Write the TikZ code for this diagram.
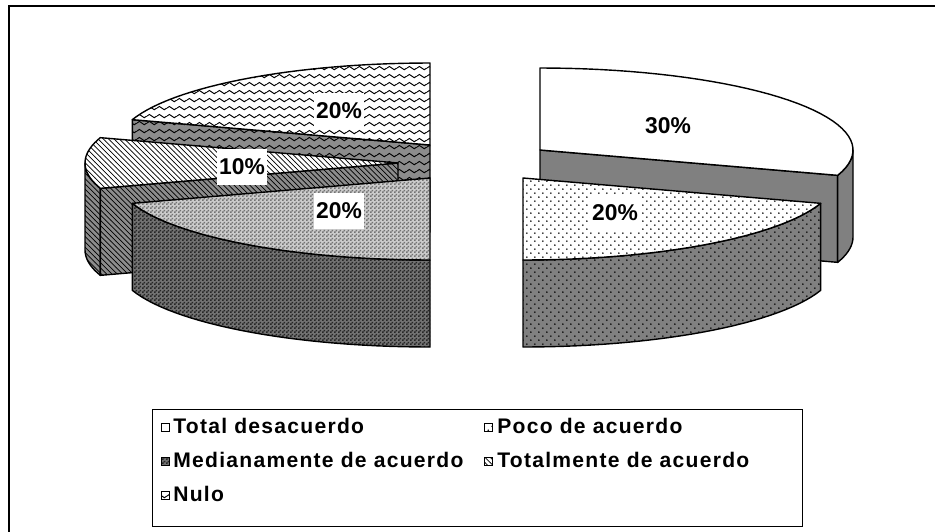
\documentclass[tikz,border=0pt]{standalone}
\usepackage{fontspec}
\setmainfont{Liberation Sans}
\newfontfamily\legfont[LetterSpace=6]{Liberation Sans}
\usetikzlibrary{patterns}

\pgfdeclarepatternformonly{waves}{\pgfpointorigin}{\pgfpoint{5.6pt}{4.5pt}}{\pgfpoint{5.6pt}{4.5pt}}{%
  \pgfsetlinewidth{0.55pt}
  \pgfpathmoveto{\pgfpoint{0pt}{2.25pt}}
  \pgfpathcurveto{\pgfpoint{0.9pt}{3.5pt}}{\pgfpoint{1.9pt}{3.5pt}}{\pgfpoint{2.8pt}{2.25pt}}
  \pgfpathcurveto{\pgfpoint{3.7pt}{1pt}}{\pgfpoint{4.7pt}{1pt}}{\pgfpoint{5.6pt}{2.25pt}}
  \pgfusepath{stroke}}
\pgfdeclarepatternformonly{finecheck}{\pgfpointorigin}{\pgfpoint{2pt}{2pt}}{\pgfpoint{2pt}{2pt}}{%
  \pgfpathrectangle{\pgfpointorigin}{\pgfpoint{1pt}{1pt}}
  \pgfpathrectangle{\pgfpoint{1pt}{1pt}}{\pgfpoint{1pt}{1pt}}
  \pgfusepath{fill}}
\pgfdeclarepatternformonly{sparsedots}{\pgfpointorigin}{\pgfpoint{4.5pt}{4.5pt}}{\pgfpoint{4.5pt}{4.5pt}}{%
  \pgfpathcircle{\pgfpoint{1.1pt}{1.1pt}}{0.5pt}
  \pgfpathcircle{\pgfpoint{3.35pt}{3.35pt}}{0.5pt}
  \pgfusepath{fill}}

\tikzset{
  piece/.style={draw, thick, line join=round},
  destop/.style={piece, fill=white},
  desside/.style={piece, fill=black!50},
  pocotop/.style={piece, preaction={fill=white}, pattern=sparsedots},
  pocoside/.style={piece, preaction={fill=black!50}, pattern=sparsedots},
  medtop/.style={piece, preaction={fill=black!20}, pattern=finecheck, pattern color=black!55},
  medside/.style={piece, preaction={fill=black!55}, pattern=finecheck, pattern color=black!85},
  tottop/.style={piece, preaction={fill=white}, pattern=north west lines},
  totside/.style={piece, preaction={fill=black!45}, pattern=north west lines},
  nulotop/.style={piece, preaction={fill=white}, pattern=waves},
  nuloside/.style={piece, preaction={fill=black!45}, pattern=waves},
  pct/.style={fill=white, font=\fontsize{13}{15}\selectfont\bfseries, minimum width=27pt, minimum height=21pt, inner sep=1pt},
  legtext/.style={anchor=base west, inner sep=0pt, font=\legfont\fontsize{12}{14}\selectfont\bfseries},
  legkey/.style={draw, thin, minimum size=4.6pt, inner sep=0pt},
}

\def\pieA{313}
\def\pieB{82}

\begin{document}
\begin{tikzpicture}[x=0.02cm, y=-0.02cm]
	\useasboundingbox (0,0) rectangle (935,531);
	\draw[line width=1pt] (9,6) rectangle (960,560);

	% left half
	\draw[nuloside] (430,145) -- ({430+\pieA*cos(162)},{145-\pieB*sin(162)}) -- ({430+\pieA*cos(162)},{232-\pieB*sin(162)}) -- (430,232) -- cycle;
	\draw[nulotop] (430,145) -- plot[domain=90:162, samples=30] ({430+\pieA*cos(\x)},{145-\pieB*sin(\x)}) -- cycle;

	\draw[totside] plot[domain=180:198, samples=10] ({398+\pieA*cos(\x)},{163-\pieB*sin(\x)}) -- plot[domain=198:180, samples=10] ({398+\pieA*cos(\x)},{250-\pieB*sin(\x)}) -- cycle;
	\draw[totside] (398,163) -- ({398+\pieA*cos(198)},{163-\pieB*sin(198)}) -- ({398+\pieA*cos(198)},{250-\pieB*sin(198)}) -- (398,250) -- cycle;
	\draw[tottop] (398,163) -- plot[domain=162:198, samples=20] ({398+\pieA*cos(\x)},{163-\pieB*sin(\x)}) -- cycle;

	\draw[medside] plot[domain=198:270, samples=30] ({430+\pieA*cos(\x)},{178-\pieB*sin(\x)}) -- plot[domain=270:198, samples=30] ({430+\pieA*cos(\x)},{265-\pieB*sin(\x)}) -- cycle;
	\draw[medtop] (430,178) -- plot[domain=198:270, samples=30] ({430+\pieA*cos(\x)},{178-\pieB*sin(\x)}) -- cycle;

	% right half
	\draw[desside] (540,150) -- ({540+\pieA*cos(-18)},{150-\pieB*sin(-18)}) -- ({540+\pieA*cos(-18)},{237-\pieB*sin(-18)}) -- (540,237) -- cycle;
	\draw[desside] plot[domain=-18:0, samples=10] ({540+\pieA*cos(\x)},{150-\pieB*sin(\x)}) -- plot[domain=0:-18, samples=10] ({540+\pieA*cos(\x)},{237-\pieB*sin(\x)}) -- cycle;
	\draw[destop] (540,150) -- plot[domain=90:-18, samples=40] ({540+\pieA*cos(\x)},{150-\pieB*sin(\x)}) -- cycle;

	\draw[pocoside] plot[domain=-90:-18, samples=30] ({523+\pieA*cos(\x)},{178-\pieB*sin(\x)}) -- plot[domain=-18:-90, samples=30] ({523+\pieA*cos(\x)},{265-\pieB*sin(\x)}) -- cycle;
	\draw[pocotop] (523,178) -- plot[domain=-90:-18, samples=30] ({523+\pieA*cos(\x)},{178-\pieB*sin(\x)}) -- cycle;

	\node[pct] (pctNulo) at (339,111) {20\%};
	\node[pct] (pctTot) at (242,167) {10\%};
	\node[pct] (pctMed) at (339,211) {20\%};
	\node[pct] (pctDes) at (668,126) {30\%};
	\node[pct] (pctPoco) at (615,213) {20\%};

	% legend
	\draw[thin] (152.7,409) rectangle (802.7,526);
	\node[legkey, fill=white] (keyDes) at (165.5,427.5) {};
	\node[legkey, pattern=sparsedots] (keyPoco) at (488.5,427.5) {};
	\node[legkey, preaction={fill=black!55}, pattern=finecheck, pattern color=black!85] (keyMed) at (165.5,461.5) {};
	\node[legkey, pattern=north west lines] (keyTot) at (488.5,461.5) {};
	\node[legkey, pattern=waves] (keyNulo) at (165.5,495.5) {};
	\node[legtext] (legDes) at (173,433) {Total desacuerdo};
	\node[legtext] (legPoco) at (497,433) {Poco de acuerdo};
	\node[legtext] (legMed) at (173,467) {Medianamente de acuerdo};
	\node[legtext] (legTot) at (497,467) {Totalmente de acuerdo};
	\node[legtext] (legNulo) at (173,501) {Nulo};
\end{tikzpicture}
\end{document}
